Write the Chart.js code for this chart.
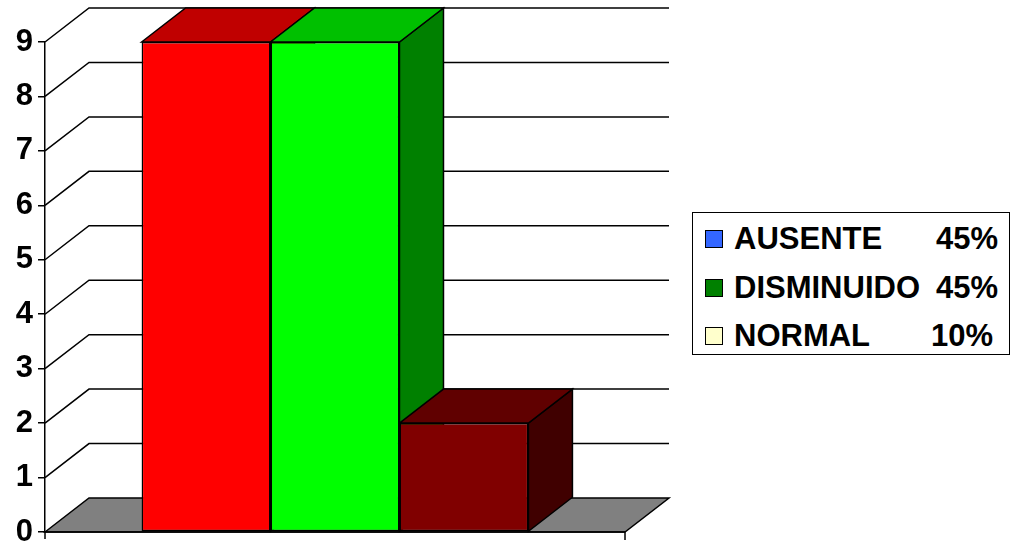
<!DOCTYPE html>
<html>
<head>
<meta charset="utf-8">
<script src="https://cdn.jsdelivr.net/npm/chart.js@4"></script>
<style>
  html, body { margin: 0; padding: 0; background: #fff; }
  #wrap { position: relative; width: 1012px; height: 548px; }
  #wrap canvas { display: block; }
  #legend {
    position: absolute; left: 692px; top: 212px; width: 318px; height: 143px;
    border: 1.5px solid #000; box-sizing: border-box; background: #fff;
    font: bold 31px "Liberation Sans", Arial, sans-serif; color: #000;
  }
  #legend .row { position: absolute; left: 0; right: 0; height: 36px; line-height: 36px; }
  #legend .sw { position: absolute; left: 12px; top: 9px; width: 16px; height: 16px; border: 1.5px solid #000; }
  #legend .lbl { position: absolute; left: 41px; top: 0; }
  #legend .pct { position: absolute; right: 11px; top: 0; }
</style>
</head>
<body>
<div id="wrap">
  <canvas id="c" width="1012" height="548"></canvas>
  <div id="legend"></div>
</div>
<script>
// Values
const categories = [''];
const seriesNames = ['AUSENTE', 'DISMINUIDO', 'NORMAL'];
const seriesValues = [[9], [9], [2]];
const yTicks = [0, 1, 2, 3, 4, 5, 6, 7, 8, 9];
const legendLabels = ['AUSENTE', 'DISMINUIDO', 'NORMAL'];
const legendPercents = ['45%', '45%', '10%'];

// Styles
const frontColors = ['#FF0000', '#00FF00', '#800000'];
const topColors = ['#C00000', '#00C000', '#600000'];
const sideColors = ['#800000', '#008000', '#400000'];
const legendColors = ['#3366FF', '#008000', '#FFFFCC'];
const DX = 44, DY = 34;

// Legend
const legendEl = document.getElementById('legend');
const rowCenters = [26, 75, 123];
const pctRight = [11, 11, 16];
legendLabels.forEach((name, i) => {
  const row = document.createElement('div');
  row.className = 'row';
  row.style.top = (rowCenters[i] - 18) + 'px';
  row.innerHTML = '<div class="sw" style="background:' + legendColors[i] + '"></div>' +
    '<span class="lbl">' + name + '</span><span class="pct" style="right:' + pctRight[i] + 'px">' +
    legendPercents[i] + '</span>';
  legendEl.appendChild(row);
});

function poly(ctx, pts, fill) {
  ctx.beginPath();
  ctx.moveTo(pts[0][0], pts[0][1]);
  for (let k = 1; k < pts.length; k++) ctx.lineTo(pts[k][0], pts[k][1]);
  ctx.closePath();
  if (fill) { ctx.fillStyle = fill; ctx.fill(); }
  ctx.stroke();
}

// Floor, back grid, bar tops and sides
const depth3d = {
  id: 'depth3d',
  beforeDatasetsDraw(chart) {
    const { ctx, chartArea: a, scales: { y } } = chart;
    ctx.save();
    ctx.lineWidth = 1.5;
    ctx.strokeStyle = '#000';
    ctx.lineJoin = 'miter';
    const y0 = y.getPixelForValue(0);
    poly(ctx, [[a.left, y0], [a.left + DX, y0 - DY], [a.right + DX, y0 - DY], [a.right, y0]], '#808080');
    yTicks.forEach(v => {
      if (v === 0) return;
      const py = y.getPixelForValue(v);
      ctx.beginPath();
      ctx.moveTo(a.left, py);
      ctx.lineTo(a.left + DX, py - DY);
      ctx.lineTo(a.right + DX, py - DY);
      ctx.stroke();
    });
    chart.data.datasets.forEach((ds, i) => {
      chart.getDatasetMeta(i).data.forEach(bar => {
        const L = bar.x - bar.width / 2, R = bar.x + bar.width / 2, T = bar.y, B = bar.base;
        poly(ctx, [[R, T], [R + DX, T - DY], [R + DX, B - DY], [R, B]], sideColors[i]);
        poly(ctx, [[L, T], [L + DX, T - DY], [R + DX, T - DY], [R, T]], topColors[i]);
      });
    });
    ctx.restore();
  },
  afterDatasetsDraw(chart) {
    const { ctx, chartArea: a, scales: { y } } = chart;
    const y0 = y.getPixelForValue(0);
    ctx.save();
    ctx.lineWidth = 1.5;
    ctx.strokeStyle = '#000';
    ctx.beginPath();
    ctx.moveTo(a.left, y0); ctx.lineTo(a.right, y0);
    ctx.moveTo(a.left, y0); ctx.lineTo(a.left, y0 + 7);
    ctx.moveTo(a.right, y0); ctx.lineTo(a.right, y0 + 8);
    ctx.stroke();
    ctx.restore();
  }
};

new Chart(document.getElementById('c'), {
  type: 'bar',
  data: {
    labels: categories,
    datasets: seriesNames.map((n, i) => ({
      label: n,
      data: seriesValues[i],
      backgroundColor: frontColors[i],
      borderColor: '#000',
      borderWidth: 1.5,
      borderSkipped: false,
      categoryPercentage: 0.667,
      barPercentage: 1.0
    }))
  },
  options: {
    responsive: false,
    animation: false,
    layout: { padding: { top: 42, right: 387, bottom: 16, left: 0 } },
    plugins: { legend: { display: false }, tooltip: { enabled: false } },
    scales: {
      x: { display: false },
      y: {
        min: 0, max: 9,
        afterFit(scale) { scale.width = 45; scale.paddingTop = 0; scale.paddingBottom = 0; },
        afterBuildTicks(scale) { scale.ticks = yTicks.map(v => ({ value: v })); },
        ticks: {
          stepSize: 1, padding: 5, color: '#000',
          font: { family: '"Liberation Sans", Arial, sans-serif', size: 31, weight: 'bold', lineHeight: 1 }
        },
        grid: { display: true, drawOnChartArea: false, drawTicks: true, tickLength: 7, color: '#000', lineWidth: 1.5 },
        border: { display: true, color: '#000', width: 1.5 }
      }
    }
  },
  plugins: [depth3d]
});
</script>
</body>
</html>
